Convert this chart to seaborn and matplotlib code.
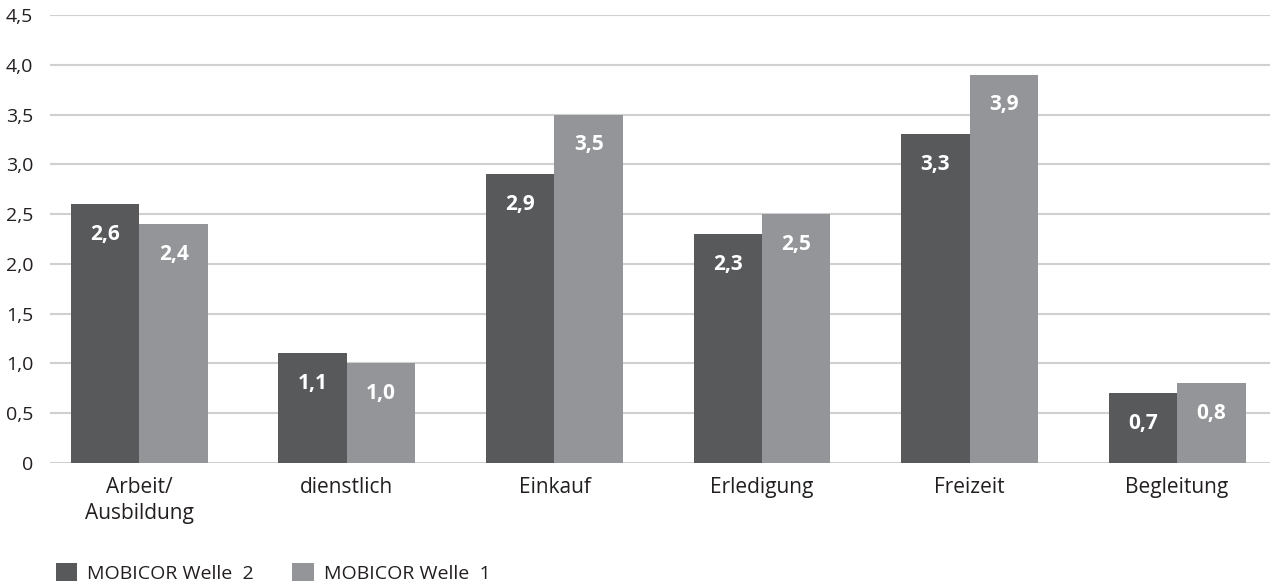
import matplotlib
matplotlib.use("Agg")
import matplotlib.pyplot as plt
from matplotlib.ticker import FuncFormatter, MultipleLocator
from matplotlib.patches import Patch
import seaborn as sns
import pandas as pd

# Trip purposes and average trips per person for both survey waves
categories = ["Arbeit/\nAusbildung", "dienstlich", "Einkauf", "Erledigung", "Freizeit", "Begleitung"]
welle2 = [2.6, 1.1, 2.9, 2.3, 3.3, 0.7]
welle1 = [2.4, 1.0, 3.5, 2.5, 3.9, 0.8]
series_names = ["MOBICOR Welle  2", "MOBICOR Welle  1"]
colors = ["#58595b", "#939598"]

df = pd.DataFrame({
    "Zweck": categories * 2,
    "Wert": welle2 + welle1,
    "Serie": [series_names[0]] * len(categories) + [series_names[1]] * len(categories),
})

sns.set_theme(style="white")
plt.rcParams["font.family"] = ["Open Sans", "DejaVu Sans"]
text_color = "#231f20"

fig = plt.figure(figsize=(12.74, 5.86), dpi=100)
ax = fig.add_axes([0.0392, 0.2099, 0.9577, 0.7645])

sns.barplot(data=df, x="Zweck", y="Wert", hue="Serie", order=categories,
            hue_order=series_names, palette=colors, width=0.66,
            saturation=1, ax=ax, legend=False, zorder=3, linewidth=0)

ax.set_xlim(-0.431, 5.448)
ax.set_ylim(0, 4.5)
ax.yaxis.set_major_locator(MultipleLocator(0.5))
ax.yaxis.set_major_formatter(FuncFormatter(
    lambda v, _: "0" if abs(v) < 1e-9 else f"{v:.1f}".replace(".", ",")))
ax.grid(axis="y", color="#d0d0d0", linewidth=1.5, zorder=0)
ax.grid(axis="x", visible=False)
for s in ax.spines.values():
    s.set_visible(False)
ax.set_xlabel("")
ax.set_ylabel("")
ax.tick_params(axis="y", length=0, pad=12, labelsize=14, labelcolor=text_color)
ax.tick_params(axis="x", length=0, pad=10, labelsize=15, labelcolor=text_color)
for lbl in ax.get_xticklabels():
    lbl.set_linespacing(1.3)

# Value labels inside the top of each bar
for container, vals in zip(ax.containers, [welle2, welle1]):
    for patch, v in zip(container.patches, vals):
        x = patch.get_x() + patch.get_width() / 2
        ax.annotate(f"{v:.1f}".replace(".", ","), (x, patch.get_height()),
                    xytext=(0, -30), textcoords="offset pixels",
                    ha="center", va="center", color="white",
                    fontsize=15, fontweight="bold", zorder=4)

handles = [Patch(facecolor=c, edgecolor="none") for c in colors]
fig.legend(handles, series_names, loc="lower left", bbox_to_anchor=(0.030, -0.024),
           ncol=2, frameon=False, fontsize=14, handlelength=1.1, handleheight=1.1,
           handletextpad=0.5, columnspacing=2.0, labelcolor=text_color)

fig.savefig("out.png", dpi=100)
